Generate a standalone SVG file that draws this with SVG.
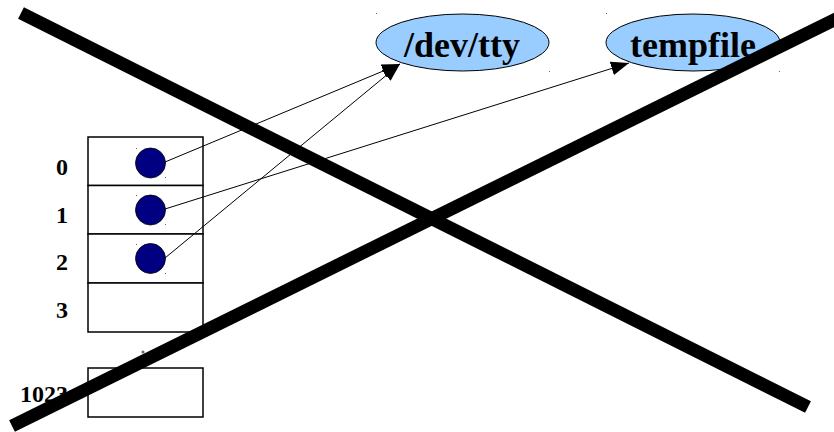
<svg xmlns="http://www.w3.org/2000/svg" width="834" height="432" viewBox="0 0 834 432">
<defs>
<style>
.lbl{font-family:"Liberation Serif","Times New Roman",serif;font-weight:bold;fill:#000}
.idx{font-size:24px;text-anchor:end}
.ell{font-size:36px;text-anchor:middle}
.cell{fill:#fff;stroke:#000;stroke-width:1.5}
.fd{fill:#000080;stroke:#000;stroke-width:0.8}
.file{fill:#99ccff;stroke:#000;stroke-width:1}
.conn{stroke:#000;stroke-width:1;fill:none;marker-end:url(#ah)}
.x{stroke:#000;stroke-width:13;stroke-linecap:butt}
.dot{fill:#666}
</style>
<marker id="ah" viewBox="0 0 18 14" refX="18" refY="7" markerWidth="18" markerHeight="14" markerUnits="userSpaceOnUse" orient="auto">
<path d="M0,0 L18,7 L0,14 Z" fill="#000"/>
</marker>
</defs>
<rect width="834" height="432" fill="#fff"/>
<g id="table">
<rect class="cell" x="88" y="137" width="115" height="48.5"/>
<rect class="cell" x="88" y="185.5" width="115" height="48.5"/>
<rect class="cell" x="88" y="234" width="115" height="49"/>
<rect class="cell" x="88" y="283" width="115" height="49"/>
<rect class="cell" x="88" y="368" width="115" height="49"/>
<circle class="dot" cx="143" cy="352" r="1.5"/>
</g>
<g id="labels">
<text class="lbl idx" x="68" y="175">0</text>
<text class="lbl idx" x="68" y="223">1</text>
<text class="lbl idx" x="68" y="270">2</text>
<text class="lbl idx" x="68" y="318">3</text>
<text class="lbl idx" x="68" y="402">1023</text>
</g>
<g id="fd0"><circle class="fd" cx="150.5" cy="163" r="15"/><rect class="dot" x="136" y="148" width="1" height="1"/><rect class="dot" x="165" y="177" width="1" height="1"/></g>
<g id="fd1"><circle class="fd" cx="150.5" cy="210" r="15"/><rect class="dot" x="136" y="195" width="1" height="1"/><rect class="dot" x="165" y="224" width="1" height="1"/></g>
<g id="fd2"><circle class="fd" cx="150.5" cy="258.5" r="15"/><rect class="dot" x="136" y="244" width="1" height="1"/><rect class="dot" x="165" y="273" width="1" height="1"/></g>
<g id="devtty">
<ellipse class="file" cx="462.5" cy="42.5" rx="86.5" ry="28.5"/>
<text class="lbl ell" x="462" y="57">/dev/tty</text>
<rect class="dot" x="376" y="13" width="1" height="1"/><rect class="dot" x="549" y="71" width="1" height="1"/>
</g>
<g id="tempfile">
<ellipse class="file" cx="693" cy="42.5" rx="87" ry="28.5"/>
<text class="lbl ell" x="693" y="57">tempfile</text>
<rect class="dot" x="606" y="13" width="1" height="1"/><rect class="dot" x="779" y="71" width="1" height="1"/>
</g>
<g id="connectors">
<line class="conn" x1="165" y1="162" x2="400" y2="64"/>
<line class="conn" x1="165" y1="209" x2="629" y2="63"/>
<line class="conn" x1="165" y1="258" x2="400" y2="64"/>
</g>
<g id="cross">
<line class="x" x1="21" y1="13" x2="808" y2="407"/>
<line class="x" x1="12" y1="426" x2="840" y2="17"/>
</g>
</svg>
